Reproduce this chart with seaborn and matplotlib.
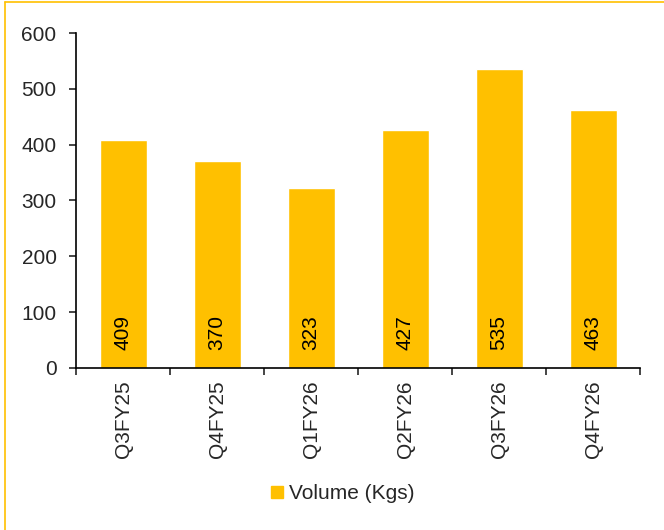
import pandas as pd
import seaborn as sns
import matplotlib.pyplot as plt
from matplotlib.lines import Line2D

# data
quarters = ['Q3FY25', 'Q4FY25', 'Q1FY26', 'Q2FY26', 'Q3FY26', 'Q4FY26']
volume = [409, 370, 323, 427, 535, 463]
series_name = 'Volume (Kgs)'

df = pd.DataFrame({'quarter': quarters, 'volume': volume})

sns.set_style('white')
plt.rcParams['font.family'] = ['Liberation Sans', 'DejaVu Sans']

bar_color = '#FFC000'
fs = 15

fig = plt.figure(figsize=(6.64, 5.30), dpi=100)
ax = fig.add_axes([0.1145, 0.3057, 0.8495, 0.632])

sns.barplot(data=df, x='quarter', y='volume', color=bar_color, width=0.5,
            saturation=1, ax=ax)

# value labels at bottom of bars
for i, v in enumerate(df['volume']):
    ax.annotate(str(v), xy=(i, 0), xytext=(0, 13), textcoords='offset points',
                rotation=90, ha='center', va='bottom', fontsize=fs, color='black')

ax.set_ylim(0, 600)
ax.set_yticks(range(0, 601, 100))
ax.set_xlim(-0.5, len(quarters) - 0.5)
ax.set_xlabel('')
ax.set_ylabel('')

for s in ['top', 'right']:
    ax.spines[s].set_visible(False)
for s in ['left', 'bottom']:
    ax.spines[s].set_color('black')
    ax.spines[s].set_linewidth(1.2)

ax.tick_params(axis='y', which='major', direction='out', length=5, width=1.2,
               labelsize=fs, left=True, pad=9)
# category labels without ticks; ticks at boundaries
ax.tick_params(axis='x', which='major', length=0, labelsize=fs, pad=9)
ax.set_xticks([i - 0.5 for i in range(len(quarters) + 1)], minor=True)
ax.tick_params(axis='x', which='minor', direction='out', length=5, width=1.2, bottom=True)
plt.setp(ax.get_xticklabels(), rotation=90, va='top', ha='center')

# legend
handle = Line2D([], [], marker='s', color=bar_color, linestyle='none', markersize=9)
fig.legend([handle], [series_name], loc='center', bbox_to_anchor=(0.513, 0.068),
           frameon=False, fontsize=fs, handletextpad=0.05, handlelength=1.0)

# yellow frame (left and top edges visible)
fig.add_artist(Line2D([0.0075, 0.0075], [0, 0.996], transform=fig.transFigure,
                      color='#FFC000', linewidth=1.2))
fig.add_artist(Line2D([0.0075, 1], [0.996, 0.996], transform=fig.transFigure,
                      color='#FFC000', linewidth=1.2))

fig.savefig('out.png', dpi=100)
